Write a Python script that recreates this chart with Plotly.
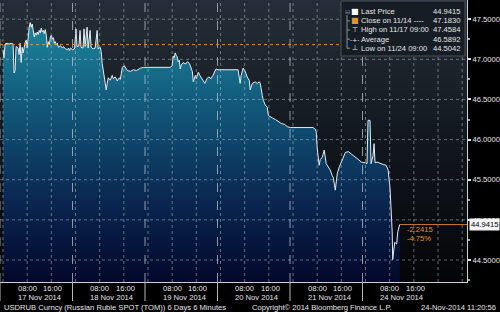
import plotly.graph_objects as go

# ---------------- data ----------------
TRADING_DAYS = ["11-17", "11-18", "11-19", "11-20", "11-21", "11-24"]
DAY_LABELS = ["17 Nov 2014", "18 Nov 2014", "19 Nov 2014", "20 Nov 2014", "21 Nov 2014", "24 Nov 2014"]
HOUR_TICKS = ["08:00", "16:00"]
Y_TICKS = [44.5, 45.0, 45.5, 46.0, 46.5, 47.0, 47.5]

times = [
    "11-17 00:00", "11-17 00:20", "11-17 00:40", "11-17 01:20", "11-17 02:00", "11-17 02:40",
    "11-17 03:20", "11-17 03:40", "11-17 04:00", "11-17 04:20", "11-17 05:00", "11-17 05:20",
    "11-17 05:40", "11-17 06:00", "11-17 06:20", "11-17 06:40", "11-17 07:20", "11-17 07:40",
    "11-17 08:00", "11-17 08:20", "11-17 08:40", "11-17 09:00", "11-17 09:20", "11-17 09:40",
    "11-17 10:00", "11-17 10:20", "11-17 10:40", "11-17 11:00", "11-17 11:20", "11-17 11:40",
    "11-17 12:00", "11-17 12:20", "11-17 12:40", "11-17 13:00", "11-17 13:20", "11-17 13:40",
    "11-17 14:00", "11-17 14:20", "11-17 14:40", "11-17 15:00", "11-17 15:20", "11-17 15:40",
    "11-17 16:00", "11-17 16:20", "11-17 16:40", "11-17 17:00", "11-17 17:20", "11-17 17:40",
    "11-17 18:00", "11-17 18:20", "11-17 19:00", "11-17 19:40", "11-17 20:00", "11-17 20:40",
    "11-17 21:20", "11-17 21:40", "11-17 22:00", "11-17 22:20", "11-17 23:00", "11-17 23:40",
    "11-18 00:10", "11-18 00:30", "11-18 01:10", "11-18 01:30", "11-18 01:50", "11-18 02:30",
    "11-18 02:50", "11-18 03:10", "11-18 03:50", "11-18 04:10", "11-18 04:50", "11-18 05:10",
    "11-18 05:50", "11-18 06:30", "11-18 07:10", "11-18 07:30", "11-18 08:10", "11-18 08:30",
    "11-18 08:50", "11-18 09:10", "11-18 09:30", "11-18 09:50", "11-18 10:10", "11-18 10:30",
    "11-18 10:50", "11-18 11:30", "11-18 12:10", "11-18 12:30", "11-18 13:10", "11-18 13:50",
    "11-18 14:30", "11-18 14:50", "11-18 15:10", "11-18 15:30", "11-18 16:10", "11-18 16:50",
    "11-18 17:10", "11-18 18:10", "11-18 19:10", "11-18 20:10", "11-18 20:50", "11-18 21:30",
    "11-18 22:30",
    "11-19 00:40", "11-19 04:00", "11-19 07:20", "11-19 08:00", "11-19 08:20", "11-19 08:40",
    "11-19 09:00", "11-19 09:20", "11-19 09:40", "11-19 10:00", "11-19 10:20", "11-19 10:40",
    "11-19 11:00", "11-19 11:40", "11-19 12:20", "11-19 13:00", "11-19 13:40", "11-19 14:00",
    "11-19 14:40", "11-19 15:00", "11-19 15:40", "11-19 16:00", "11-19 16:40", "11-19 17:10",
    "11-19 18:10", "11-19 18:50", "11-19 19:30", "11-19 20:10", "11-19 20:50", "11-19 21:30",
    "11-19 22:30", "11-19 23:10",
    "11-20 00:10", "11-20 03:10", "11-20 05:50", "11-20 06:30", "11-20 06:50", "11-20 07:30",
    "11-20 08:10", "11-20 08:50", "11-20 09:30", "11-20 09:50", "11-20 10:30", "11-20 11:30",
    "11-20 12:10", "11-20 12:50", "11-20 13:10", "11-20 13:50", "11-20 14:10", "11-20 14:50",
    "11-20 15:30", "11-20 15:50", "11-20 16:30", "11-20 17:10", "11-20 18:10", "11-20 19:10",
    "11-20 20:10", "11-20 21:10", "11-20 22:10", "11-20 23:10",
    "11-21 00:00", "11-21 02:20", "11-21 05:40", "11-21 06:40", "11-21 07:20", "11-21 07:40",
    "11-21 08:00", "11-21 08:40", "11-21 09:00", "11-21 09:40", "11-21 10:00", "11-21 10:20",
    "11-21 11:00", "11-21 11:40", "11-21 12:20", "11-21 13:00", "11-21 13:20", "11-21 14:00",
    "11-21 14:40", "11-21 15:20", "11-21 16:00", "11-21 16:40", "11-21 17:20", "11-21 18:20",
    "11-21 19:20", "11-21 20:20", "11-21 21:00", "11-21 22:00", "11-21 22:40",
    "11-24 00:00", "11-24 00:30", "11-24 00:50", "11-24 01:30", "11-24 01:50", "11-24 02:30",
    "11-24 02:50", "11-24 03:10", "11-24 03:50", "11-24 04:50", "11-24 05:50", "11-24 06:50",
    "11-24 07:30", "11-24 08:10", "11-24 08:30", "11-24 08:50", "11-24 09:00", "11-24 09:40",
    "11-24 10:20", "11-24 10:40", "11-24 11:20",
]

prices = [
    47.12, 47.02, 47.19, 47.20, 47.19, 47.20,
    47.19, 46.83, 46.86, 47.16, 47.14, 47.06,
    47.20, 46.96, 47.15, 47.08, 47.21, 47.24,
    47.14, 47.30, 47.40, 47.4584, 47.40, 47.44,
    47.33, 47.28, 47.33, 47.30, 47.34, 47.31,
    47.36, 47.33, 47.39, 47.34, 47.36, 47.32,
    47.37, 47.30, 47.15, 47.22, 47.18, 47.28,
    47.30, 47.25, 47.27, 47.20, 47.22, 47.18,
    47.20, 47.15, 47.17, 47.14, 47.16, 47.13,
    47.12, 47.14, 47.11, 47.14, 47.12, 47.13,
    47.38, 47.16, 47.17, 47.36, 47.15, 47.14,
    47.38, 47.16, 47.40, 47.14, 47.36, 47.15,
    47.13, 47.14, 47.36, 47.13, 47.15, 47.10,
    46.95, 46.86, 46.80, 46.72, 46.62, 46.70,
    46.77, 46.74, 46.80, 46.76, 46.78, 46.73,
    46.77, 46.75, 46.85, 46.90, 46.92, 46.88,
    46.86, 46.85, 46.87, 46.86, 46.88, 46.89,
    46.90,
    46.90, 46.90, 46.90, 46.92, 47.04, 47.02,
    47.08, 47.05, 47.03, 46.97, 46.99, 46.88,
    46.93, 46.96, 46.94, 46.97, 46.95, 46.92,
    46.85, 46.72, 46.80, 46.76, 46.84, 46.80,
    46.74, 46.70, 46.76, 46.78, 46.76, 46.80,
    46.88, 46.87,
    46.87, 46.87, 46.87, 46.70, 46.80, 46.89,
    46.85, 46.78, 46.74, 46.62, 46.70, 46.72,
    46.70, 46.72, 46.70, 46.55, 46.49, 46.43,
    46.40, 46.30, 46.28, 46.27, 46.25, 46.22,
    46.20, 46.19, 46.16, 46.15,
    46.15, 46.15, 46.15, 46.15, 46.13, 46.10,
    45.90, 45.68, 45.75, 45.78, 45.82, 45.87,
    45.70, 45.66, 45.62, 45.55, 45.53, 45.37,
    45.58, 45.66, 45.72, 45.80, 45.84, 45.85,
    45.82, 45.79, 45.77, 45.74, 45.72,
    45.71, 45.70, 46.24, 46.24, 45.70, 45.80,
    45.95, 45.71, 45.72, 45.70, 45.69, 45.68,
    45.62, 45.37, 45.15, 44.85, 44.5042, 44.72,
    44.70, 44.85, 44.9415,
]

last_price = 44.9415
prev_close = 47.1830
high_val = 47.4584
avg_val = 46.5892
low_val = 44.5042
net_change = -2.2415
pct_change = -4.75

# ---------------- helpers ----------------
def to_x(s):
    d, hm = s.split()
    h, m = hm.split(":")
    return TRADING_DAYS.index(d) + (int(h) + int(m) / 60.0) / 24.0

xs = [to_x(t) for t in times]

W, H = 500, 312
X_MIN, X_MAX = -0.0414, 6.40
Y_MIN, Y_MAX = 44.226, 47.739
PLOT_R = 467 / W
PLOT_B = 30 / H
FONT = "Liberation Sans, Arial, sans-serif"
TXT = "#e6e6e6"
ORANGE = "#e0922e"
FS = 7.6

def py(px):  # paper y from pixel row
    return (H - px) / H

fig = go.Figure()

# background gradient of the plot area
fig.add_trace(go.Scatter(
    x=[X_MIN, X_MAX, X_MAX, X_MIN, X_MIN], y=[Y_MAX, Y_MAX, Y_MIN, Y_MIN, Y_MAX],
    mode="lines", line=dict(width=0), fill="toself",
    fillgradient=dict(type="vertical", start=Y_MIN, stop=Y_MAX,
                      colorscale=[[0, "rgb(4,5,8)"], [0.5, "rgb(18,23,30)"], [1, "rgb(37,46,56)"]]),
    hoverinfo="skip", showlegend=False))

# price area
fig.add_trace(go.Scatter(
    x=xs, y=prices, mode="lines", line=dict(color="rgb(228,236,242)", width=1),
    fill="tozeroy",
    fillgradient=dict(type="vertical", start=Y_MIN, stop=Y_MAX,
                      colorscale=[[0, "rgb(4,8,42)"], [0.3, "rgb(10,40,82)"],
                                  [0.65, "rgb(18,92,125)"], [1, "rgb(34,146,166)"]]),
    hoverinfo="skip", showlegend=False))

shapes = []
GRID = "rgba(175,185,195,0.55)"
for v in Y_TICKS:
    shapes.append(dict(type="line", xref="x", yref="y", x0=X_MIN, x1=X_MAX, y0=v, y1=v,
                       line=dict(color=GRID, width=1, dash="dot"), layer="above"))
k = 0
while k / 3.0 <= X_MAX:
    shapes.append(dict(type="line", xref="x", yref="y domain", x0=k / 3.0, x1=k / 3.0, y0=0, y1=1,
                       line=dict(color=GRID, width=1, dash="dot"), layer="above"))
    k += 1
for i in range(len(TRADING_DAYS)):
    xd = i + X_MIN
    shapes.append(dict(type="line", xref="x", yref="y domain", x0=xd, x1=xd, y0=0, y1=1,
                       line=dict(color="rgba(185,195,205,0.75)", width=1, dash="dash"), layer="above"))
    shapes.append(dict(type="line", xref="x", yref="paper", x0=xd, x1=xd,
                       y0=py(301), y1=PLOT_B,
                       line=dict(color="#b8b8b8", width=1), layer="above"))
shapes.append(dict(type="line", xref="x", yref="y", x0=X_MIN, x1=X_MAX, y0=prev_close, y1=prev_close,
                   line=dict(color=ORANGE, width=1, dash="dot"), layer="above"))
shapes.append(dict(type="line", xref="x", yref="y", x0=xs[-1], x1=X_MAX, y0=last_price, y1=last_price,
                   line=dict(color="#c87a30", width=1), layer="above"))
# legend box
shapes.append(dict(type="rect", xref="paper", yref="paper",
                   x0=341 / W, x1=465 / W, y0=py(56), y1=py(1),
                   fillcolor="#161d25", line=dict(color="#4a525c", width=1), layer="above"))
# legend tree line
shapes.append(dict(type="line", xref="paper", yref="paper", x0=347 / W, x1=347 / W,
                   y0=py(48.5), y1=py(15), line=dict(color="#8a9098", width=1), layer="above"))

ann = []
# hour tick labels
for i in range(len(TRADING_DAYS)):
    for j, t in enumerate(HOUR_TICKS):
        ann.append(dict(x=i + (j + 1) / 3.0, y=py(288.5), xref="x", yref="paper", text=t,
                        showarrow=False, xanchor="center", yanchor="middle", xshift=1.5 * j,
                        font=dict(family=FONT, size=FS, color=TXT)))
# day labels
for i, lab in enumerate(DAY_LABELS):
    ann.append(dict(x=i + 0.5, y=py(297.5), xref="x", yref="paper", text=lab, showarrow=False,
                    xanchor="center", yanchor="middle", font=dict(family=FONT, size=FS, color=TXT)))
# footer
ann.append(dict(x=2 / W, y=py(307), xref="paper", yref="paper",
                text="USDRUB Curncy (Russian Ruble SPOT (TOM)) 6 Days 6 Minutes", showarrow=False,
                xanchor="left", yanchor="middle", font=dict(family=FONT, size=FS, color=TXT)))
ann.append(dict(x=250 / W, y=py(307), xref="paper", yref="paper",
                text="Copyright\u00a9 2014 Bloomberg Finance L.P.", showarrow=False,
                xanchor="left", yanchor="middle", font=dict(family=FONT, size=FS, color=TXT)))
ann.append(dict(x=498 / W, y=py(307), xref="paper", yref="paper",
                text="24-Nov-2014 11:20:56", showarrow=False,
                xanchor="right", yanchor="middle", font=dict(family=FONT, size=FS, color=TXT)))
# last price tag
ann.append(dict(x=469 / W, y=last_price, xref="paper", yref="y", text="%.4f" % last_price,
                showarrow=False, xanchor="left", yanchor="middle", bgcolor="#f4f4f4",
                borderpad=1, font=dict(family=FONT, size=FS, color="#000000")))
# change labels
ann.append(dict(x=405 / W, y=py(229.5), xref="paper", yref="paper", text="%.4f" % net_change,
                showarrow=False, xanchor="left", yanchor="middle", font=dict(family=FONT, size=FS, color=ORANGE)))
ann.append(dict(x=405 / W, y=py(238.5), xref="paper", yref="paper", text="%.2f%%" % pct_change,
                showarrow=False, xanchor="left", yanchor="middle", font=dict(family=FONT, size=FS, color=ORANGE)))

# legend contents
rows = [
    ("\u25a0", "#ffffff", 8, "Last Price", last_price),
    ("\u25a0", ORANGE, 8, "Close on 11/14 ----", prev_close),
    ("\u22a4", TXT, 7, "High on 11/17 09:00", high_val),
    ("-+-", TXT, 6, "Average", avg_val),
    ("\u22a5", TXT, 7, "Low on 11/24 09:00", low_val),
]
for r, (icon, icol, isz, lab, val) in enumerate(rows):
    ypx = 11.8 + 9.1 * r
    yy = py(ypx)
    if r == 0:
        ann.append(dict(x=347 / W, y=yy, xref="paper", yref="paper", text="\u229f", showarrow=False,
                        xanchor="center", yanchor="middle",
                        font=dict(family="DejaVu Sans", size=6, color="#9aa0a6")))
    else:
        shapes.append(dict(type="line", xref="paper", yref="paper", x0=347 / W, x1=350 / W,
                           y0=yy, y1=yy, line=dict(color="#8a9098", width=1), layer="above"))
    ann.append(dict(x=354.5 / W, y=yy, xref="paper", yref="paper", text=icon, showarrow=False,
                    xanchor="center", yanchor="middle", font=dict(family="DejaVu Sans", size=isz, color=icol)))
    ann.append(dict(x=359 / W, y=yy, xref="paper", yref="paper", text=lab, showarrow=False,
                    xanchor="left", yanchor="middle", font=dict(family=FONT, size=FS, color=TXT)))
    ann.append(dict(x=462 / W, y=yy, xref="paper", yref="paper", text="%.4f" % val, showarrow=False,
                    xanchor="right", yanchor="middle", font=dict(family=FONT, size=FS, color=TXT)))

fig.update_layout(
    width=W, height=H, margin=dict(l=0, r=0, t=0, b=0, autoexpand=False),
    paper_bgcolor="#000000", plot_bgcolor="#000000",
    showlegend=False, shapes=shapes, annotations=ann,
    xaxis=dict(domain=[0, PLOT_R], range=[X_MIN, X_MAX], showgrid=False, zeroline=False,
               automargin=False, showticklabels=False, ticks="",
               showline=True, linecolor="#d0d0d0", linewidth=1),
    yaxis=dict(domain=[PLOT_B, 1], range=[Y_MIN, Y_MAX], side="right", showgrid=False, zeroline=False,
               automargin=False,
               tickmode="array", tickvals=Y_TICKS, tickformat=".4f",
               ticks="outside", ticklen=3, tickwidth=2, tickcolor="#e0e0e0",
               minor=dict(dtick=0.25, ticks="outside", ticklen=2, tickcolor="#a0a0a0"),
               tickfont=dict(family=FONT, size=FS, color=TXT),
               showline=True, linecolor="#d0d0d0", linewidth=1),
)

fig.write_html("out.html")
